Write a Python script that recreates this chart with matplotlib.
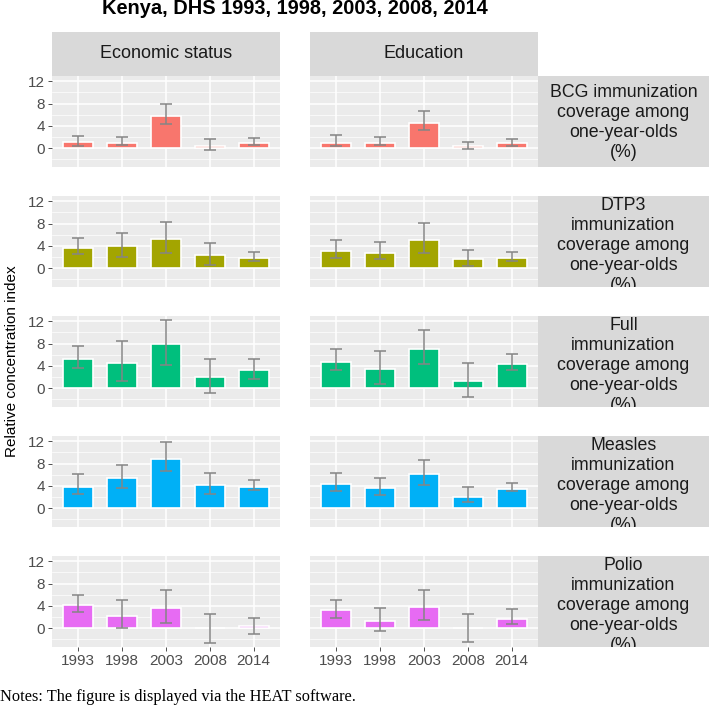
import matplotlib.pyplot as plt
import numpy as np

# Kenya DHS - relative concentration index by year, 2 dimensions x 5 indicators
years = ['1993', '1998', '2003', '2008', '2014']
dimensions = ['Economic status', 'Education']
indicators = [
    'BCG immunization\ncoverage among\none-year-olds\n(%)',
    'DTP3\nimmunization\ncoverage among\none-year-olds\n(%)',
    'Full\nimmunization\ncoverage among\none-year-olds\n(%)',
    'Measles\nimmunization\ncoverage among\none-year-olds\n(%)',
    'Polio\nimmunization\ncoverage among\none-year-olds\n(%)',
]
colors = ['#F8766D', '#A3A500', '#00BF7D', '#00B0F6', '#E76BF3']

# estimates, lower and upper CI  (economic status / education)
bcg_econ = [1.1, 1.0, 5.8, 0.5, 0.9]
bcg_econ_lo = [0.5, 0.6, 4.3, -0.3, 0.6]
bcg_econ_hi = [2.2, 2.1, 7.9, 1.6, 1.8]
bcg_edu = [1.0, 1.0, 4.6, 0.4, 0.9]
bcg_edu_lo = [0.4, 0.6, 3.2, -0.1, 0.5]
bcg_edu_hi = [2.4, 2.1, 6.6, 1.1, 1.7]

dtp3_econ = [3.7, 4.0, 5.2, 2.3, 1.8]
dtp3_econ_lo = [2.5, 2.0, 2.8, 0.6, 1.3]
dtp3_econ_hi = [5.4, 6.4, 8.3, 4.6, 3.0]
dtp3_edu = [3.1, 2.8, 5.1, 1.6, 1.8]
dtp3_edu_lo = [1.8, 1.6, 2.8, 0.5, 1.3]
dtp3_edu_hi = [5.0, 4.8, 8.2, 3.2, 3.0]

full_econ = [5.3, 4.6, 7.9, 2.0, 3.2]
full_econ_lo = [3.6, 1.3, 4.2, -0.8, 1.6]
full_econ_hi = [7.6, 8.5, 12.2, 5.3, 5.3]
full_edu = [4.7, 3.4, 7.0, 1.3, 4.4]
full_edu_lo = [3.2, 0.7, 4.3, -1.6, 3.2]
full_edu_hi = [7.0, 6.6, 10.5, 4.6, 6.2]

measles_econ = [3.9, 5.4, 8.9, 4.2, 3.8]
measles_econ_lo = [2.5, 3.6, 6.7, 2.6, 3.2]
measles_econ_hi = [6.1, 7.8, 11.8, 6.4, 5.0]
measles_edu = [4.4, 3.6, 6.2, 2.1, 3.5]
measles_edu_lo = [3.1, 2.3, 4.2, 1.1, 3.1]
measles_edu_hi = [6.3, 5.5, 8.7, 3.8, 4.6]

polio_econ = [4.1, 2.2, 3.6, 0.1, 0.5]
polio_econ_lo = [2.9, 0.0, 1.0, -2.6, -1.1]
polio_econ_hi = [5.9, 5.0, 6.9, 2.5, 1.9]
polio_edu = [3.2, 1.3, 3.8, 0.1, 1.7]
polio_edu_lo = [1.9, -0.5, 1.4, -2.5, 0.8]
polio_edu_hi = [5.1, 3.6, 6.8, 2.5, 3.4]

data = [
    [(bcg_econ, bcg_econ_lo, bcg_econ_hi), (bcg_edu, bcg_edu_lo, bcg_edu_hi)],
    [(dtp3_econ, dtp3_econ_lo, dtp3_econ_hi), (dtp3_edu, dtp3_edu_lo, dtp3_edu_hi)],
    [(full_econ, full_econ_lo, full_econ_hi), (full_edu, full_edu_lo, full_edu_hi)],
    [(measles_econ, measles_econ_lo, measles_econ_hi), (measles_edu, measles_edu_lo, measles_edu_hi)],
    [(polio_econ, polio_econ_lo, polio_econ_hi), (polio_edu, polio_edu_lo, polio_edu_hi)],
]

plt.rcParams['font.family'] = ['Liberation Sans', 'DejaVu Sans']

W, H = 709, 705
fig = plt.figure(figsize=(W / 100, H / 100), dpi=100)


def px_axes(x0, y0, w, h):
    # pixel box (top-left origin) -> figure axes
    return fig.add_axes([x0 / W, 1 - (y0 + h) / H, w / W, h / H])


col_x = [52, 310]
panel_w = 228
row_y = [76, 196, 316, 436, 556]
panel_h = 91
strip_bg = '#D9D9D9'

# column strips
for j, dim in enumerate(dimensions):
    sa = px_axes(col_x[j], 32, panel_w, 44)
    sa.set_facecolor(strip_bg)
    sa.set_xticks([])
    sa.set_yticks([])
    for s in sa.spines.values():
        s.set_visible(False)
    sa.text(0.5, 0.5, dim, ha='center', va='center', fontsize=13,
            color='#1A1A1A', transform=sa.transAxes)

x = np.arange(len(years))
for i, ind in enumerate(indicators):
    # row strip on the right (long labels overflow and get clipped)
    ra = px_axes(538, row_y[i], 171, panel_h)
    ra.set_facecolor(strip_bg)
    ra.set_xticks([])
    ra.set_yticks([])
    for s in ra.spines.values():
        s.set_visible(False)
    shift = 4 if ind.count('\n') >= 4 else 1
    ra.text(0.5, 0.5 - shift / panel_h, ind, ha='center', va='center', fontsize=12.8,
            color='#1A1A1A', linespacing=1.24, transform=ra.transAxes, clip_on=True)

    for j in range(2):
        est, lo, hi = [np.array(v) for v in data[i][j]]
        ax = px_axes(col_x[j], row_y[i], panel_w, panel_h)
        ax.set_facecolor('#EBEBEB')
        ax.set_axisbelow(True)
        ax.bar(x, est, width=0.68, color=colors[i], edgecolor='white', linewidth=1.2)
        ax.errorbar(x, est, yerr=[est - lo, hi - est], fmt='none', ecolor='#858585',
                    elinewidth=1.1, capsize=4.2, capthick=1.1)
        ax.set_xlim(-0.6, 4.6)
        ax.set_ylim(-3.35, 12.95)
        ax.set_yticks([0, 4, 8, 12])
        ax.set_yticks([-2, 2, 6, 10], minor=True)
        ax.set_xticks(x)
        ax.grid(True, which='major', color='white', linewidth=1.1)
        ax.grid(True, which='minor', axis='y', color='white', linewidth=0.5)
        for s in ax.spines.values():
            s.set_visible(False)
        ax.tick_params(which='minor', length=0)
        ax.tick_params(which='major', length=3, width=0.6, color='#333333',
                       labelsize=11, labelcolor='#4D4D4D', pad=2)
        if j == 0:
            ax.set_yticklabels(['0', '4', '8', '12'])
        else:
            ax.tick_params(axis='y', length=0, labelleft=False)
        if i == len(indicators) - 1:
            ax.set_xticklabels(years)
        else:
            ax.tick_params(axis='x', length=0, labelbottom=False)

fig.text(295 / W, 1 - 14 / H, 'Kenya, DHS 1993, 1998, 2003, 2008, 2014', ha='center',
         va='baseline', fontsize=14.4, fontweight='bold', color='black')
fig.text(12 / W, 1 - 361 / H, 'Relative concentration index', rotation=90,
         ha='center', va='center', fontsize=11, color='black')
fig.text(0, 1 - 701 / H, 'Notes: The figure is displayed via the HEAT software.',
         ha='left', va='baseline', fontsize=11.8, family='Liberation Serif', color='black')

fig.savefig('out.png', dpi=100)
